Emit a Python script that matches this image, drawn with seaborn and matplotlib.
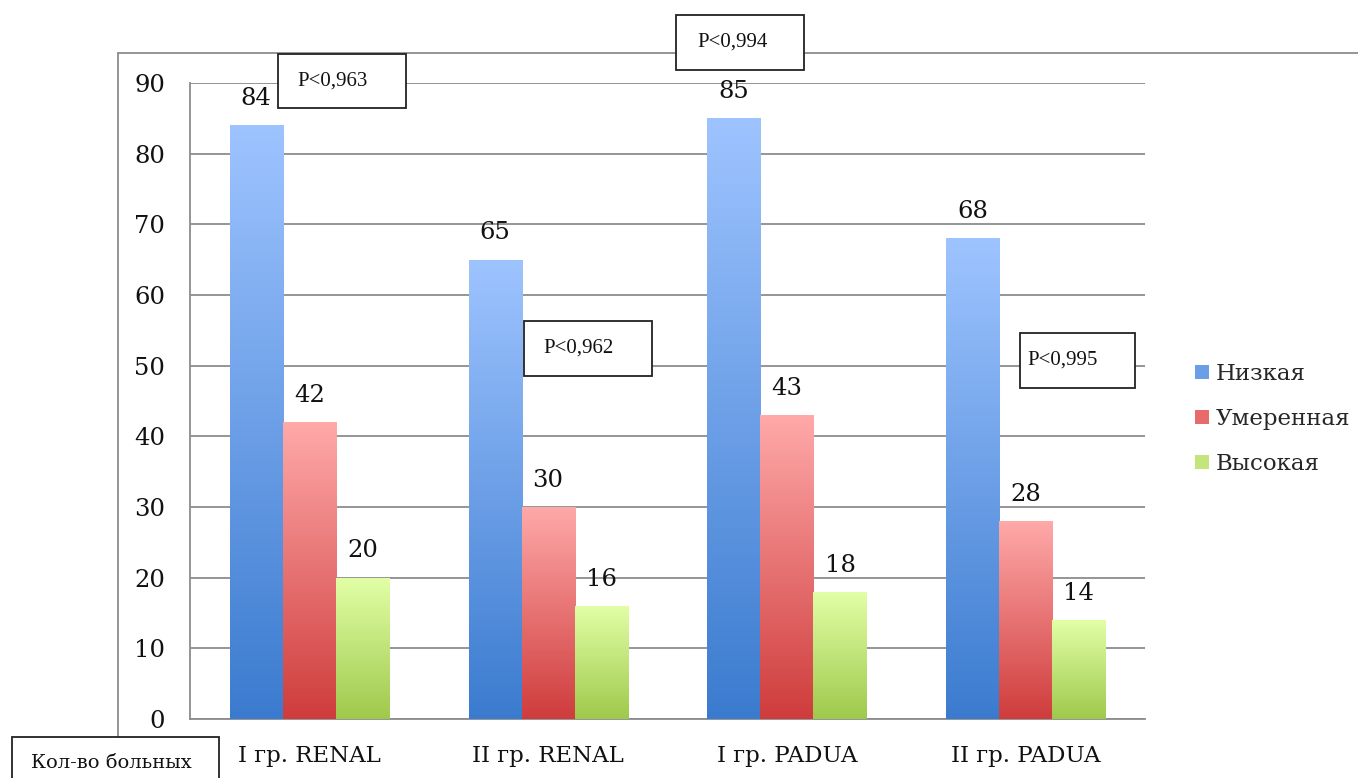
import numpy as np
import pandas as pd
import matplotlib
matplotlib.use("Agg")
import matplotlib.pyplot as plt
import seaborn as sns
from matplotlib.colors import LinearSegmentedColormap
from matplotlib.patches import Rectangle, Patch
from matplotlib.lines import Line2D

# Data
groups = ["I гр. RENAL", "II гр. RENAL", "I гр. PADUA", "II гр. PADUA"]
levels = ["Низкая", "Умеренная", "Высокая"]
low = [84, 65, 85, 68]
moderate = [42, 30, 43, 28]
high = [20, 16, 18, 14]
p_labels = ["P<0,963", "P<0,994", "P<0,962", "P<0,995"]
y_label = "Кол-во больных"

# (top colour, bottom colour) for each level's vertical gradient
grad = {
    "Низкая": ("#9EC4FF", "#3B7BCF"),
    "Умеренная": ("#FFA9A9", "#CF3C3C"),
    "Высокая": ("#E2FFA6", "#9FC94C"),
}

df = pd.DataFrame({
    "group": groups * 3,
    "level": [levels[0]] * 4 + [levels[1]] * 4 + [levels[2]] * 4,
    "value": low + moderate + high,
})

sns.set_theme(style="white")
plt.rcParams["font.family"] = ["DejaVu Serif"]

W, H = 1358, 778
fig = plt.figure(figsize=(W / 100, H / 100), dpi=100)
fig.patch.set_facecolor("white")

def fx(px):
    return px / W

def fy(py):
    return 1 - py / H

ax = fig.add_axes([fx(190), fy(719), fx(1145) - fx(190), fy(83) - fy(719)])

palette = {k: v[1] for k, v in grad.items()}
sns.barplot(data=df, x="group", y="value", hue="level", order=groups,
            hue_order=levels, palette=palette, width=0.667, gap=0,
            saturation=1, ax=ax, legend=False, edgecolor="none", zorder=3)

ax.set_ylim(0, 90)
ax.set_xlim(-0.5, 3.5)
ax.set_yticks(range(0, 91, 10))
ax.set_xlabel("")
ax.set_ylabel("")

# Gradient fill over each bar
for cont, lvl in zip(ax.containers, levels):
    top_c, bot_c = grad[lvl]
    cmap = LinearSegmentedColormap.from_list(lvl, [bot_c, top_c])
    for bar in cont:
        x0, y0 = bar.get_x(), bar.get_y()
        w, h = bar.get_width(), bar.get_height()
        img = ax.imshow(np.linspace(0, 1, 256).reshape(-1, 1), cmap=cmap,
                        origin="lower", aspect="auto",
                        extent=(x0, x0 + w, y0, y0 + h), zorder=4)
        img.set_clip_path(bar)
    ax.bar_label(cont, labels=[str(int(v)) for v in cont.datavalues],
                 padding=11, fontsize=17.5, color="#111111", zorder=6)

ax.set_xlim(-0.5, 3.5)
ax.set_ylim(0, 90)

# Grid, spines, ticks
ax.yaxis.grid(True, color="#8C8C8C", linewidth=1.3, zorder=0)
ax.set_axisbelow(True)
for s in ["top", "right"]:
    ax.spines[s].set_visible(False)
for s in ["left", "bottom"]:
    ax.spines[s].set_color("#8C8C8C")
    ax.spines[s].set_linewidth(1.3)
ax.set_xticks([-0.5, 0.5, 1.5, 2.5, 3.5], minor=False)
ax.set_xticklabels([])
ax.set_xticks([0, 1, 2, 3], minor=True)
ax.set_xticklabels(groups, minor=True, fontsize=16.5)
ax.tick_params(axis="x", which="major", length=8, width=1.3, color="#8C8C8C",
               direction="out")
ax.tick_params(axis="x", which="minor", length=0, pad=19, labelcolor="#111111")
ax.tick_params(axis="y", length=8, width=1.3, color="#8C8C8C", direction="out",
               labelsize=17.5, labelcolor="#111111", pad=10)

# Outer frame of the chart area
fig.add_artist(Line2D([fx(118), fx(118)], [fy(53), fy(737)], transform=fig.transFigure,
                      color="#8C8C8C", lw=1.3))
fig.add_artist(Line2D([fx(118), 1], [fy(53), fy(53)], transform=fig.transFigure,
                      color="#8C8C8C", lw=1.3))

# Legend
handles = [Patch(facecolor=c, edgecolor="none")
           for c in ["#6A9FE8", "#E86A6A", "#C4E57A"]]
fig.legend(handles, levels, loc="center left",
           bbox_to_anchor=(fx(1184), fy(419)), frameon=False, fontsize=16.5,
           handlelength=0.6, handleheight=0.6, handletextpad=0.3,
           labelspacing=1.0, borderpad=0)

# Annotation boxes
def box(x0, y0, x1, y1, text, tx, fontsize=15, family="Liberation Serif"):
    fig.add_artist(Rectangle((fx(x0), fy(y1)), fx(x1) - fx(x0), fy(y0) - fy(y1),
                             transform=fig.transFigure, facecolor="white",
                             edgecolor="#222222", lw=1.3, zorder=10))
    fig.text(fx(tx), fy((y0 + y1) / 2), text, ha="left", va="center",
             fontsize=fontsize, family=family, color="#111111", zorder=11)

box(278, 54, 406, 108, p_labels[0], 297)
box(676, 15, 804, 70, p_labels[1], 697)
box(524, 321, 652, 376, p_labels[2], 543)
box(1020, 333, 1135, 388, p_labels[3], 1027)
box(12, 737, 219, 790, y_label, 31, fontsize=14, family="DejaVu Serif")

fig.savefig("out.png", dpi=100, facecolor="white")
